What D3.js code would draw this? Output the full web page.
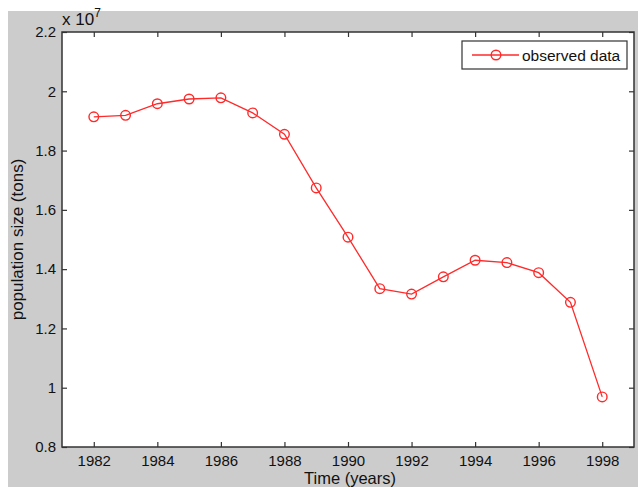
<!DOCTYPE html>
<html>
<head>
<meta charset="utf-8">
<script src="https://cdn.jsdelivr.net/npm/d3@7"></script>
<style>
  html, body { margin: 0; padding: 0; background: #fff; }
  svg { display: block; font-family: "Liberation Sans", Arial, sans-serif; }
</style>
</head>
<body>
<div id="chart"></div>
<script>
// data (population in units of 1e7 tons)
const years = [1982, 1983, 1984, 1985, 1986, 1987, 1988, 1989, 1990,
               1991, 1992, 1993, 1994, 1995, 1996, 1997, 1998];
const population = [1.914, 1.919, 1.958, 1.974, 1.978, 1.927, 1.855, 1.674, 1.508,
                    1.334, 1.316, 1.374, 1.430, 1.422, 1.388, 1.288, 0.969];
const xTicks = [1982, 1984, 1986, 1988, 1990, 1992, 1994, 1996, 1998];
const yTicks = [0.8, 1, 1.2, 1.4, 1.6, 1.8, 2, 2.2];
const seriesName = "observed data";

const W = 638, H = 487;
const margin = { top: 32, right: 4, bottom: 40, left: 62 };
const innerW = W - margin.left - margin.right;
const innerH = H - margin.top - margin.bottom;

const svg = d3.select("#chart").append("svg")
  .attr("width", W)
  .attr("height", H);

// grey figure background
svg.append("rect")
  .attr("x", 8).attr("y", 11)
  .attr("width", W - 8).attr("height", H - 11)
  .attr("fill", "#cccccc");

const g = svg.append("g").attr("transform", `translate(${margin.left},${margin.top})`);

const x = d3.scaleLinear().domain([1981, 1999]).range([0, innerW]);
const y = d3.scaleLinear().domain([0.8, 2.2]).range([innerH, 0]);

g.append("rect")
  .attr("width", innerW).attr("height", innerH)
  .attr("fill", "#fff");

const axisColor = "#333";
const fmtY = (d) => d3.format("~g")(d);

// bottom / left axes with labels, ticks drawn inward
const xAxis = g.append("g").attr("transform", `translate(0,${innerH})`)
  .call(d3.axisBottom(x).tickValues(xTicks).tickFormat(d3.format("d")).tickSizeInner(-5).tickSizeOuter(0).tickPadding(8));
const yAxis = g.append("g")
  .call(d3.axisLeft(y).tickValues(yTicks).tickFormat(fmtY).tickSizeInner(-5).tickSizeOuter(0).tickPadding(6));
// top / right mirrored ticks
const xTop = g.append("g")
  .call(d3.axisTop(x).tickValues(xTicks).tickFormat("").tickSizeInner(-5).tickSizeOuter(0));
const yRight = g.append("g").attr("transform", `translate(${innerW},0)`)
  .call(d3.axisRight(y).tickValues(yTicks).tickFormat("").tickSizeInner(-5).tickSizeOuter(0));

[xAxis, yAxis, xTop, yRight].forEach((a) => {
  a.select(".domain").remove();
  a.selectAll("line").attr("stroke", axisColor).attr("stroke-width", 1.2);
  a.selectAll("text").attr("fill", "#111").style("font-size", "15px");
});

// box
g.append("rect")
  .attr("width", innerW).attr("height", innerH)
  .attr("fill", "none")
  .attr("stroke", axisColor)
  .attr("stroke-width", 1.5);

// exponent label
const expo = g.append("text")
  .attr("x", 0).attr("y", -7)
  .attr("fill", "#111")
  .style("font-size", "17px");
expo.append("tspan").text("x 10");
expo.append("tspan").attr("dy", -8).style("font-size", "12px").text("7");

// axis titles
svg.append("text")
  .attr("x", margin.left + innerW / 2 + 2)
  .attr("y", H - 3)
  .attr("text-anchor", "middle")
  .attr("fill", "#111")
  .style("font-size", "16.5px")
  .text("Time (years)");

svg.append("text")
  .attr("transform", `translate(23,${margin.top + innerH / 2}) rotate(-90)`)
  .attr("text-anchor", "middle")
  .attr("fill", "#111")
  .style("font-size", "17px")
  .text("population size (tons)");

// series
const red = "#ff2a2a";
const line = d3.line().x((d, i) => x(years[i])).y((d) => y(d));

g.append("path")
  .datum(population)
  .attr("fill", "none")
  .attr("stroke", red)
  .attr("stroke-width", 1.3)
  .attr("d", line);

g.selectAll(".pt")
  .data(population)
  .enter().append("circle")
  .attr("class", "pt")
  .attr("cx", (d, i) => x(years[i]))
  .attr("cy", (d) => y(d))
  .attr("r", 4.8)
  .attr("fill", "none")
  .attr("stroke", red)
  .attr("stroke-width", 1.4);

// legend
const lg = svg.append("g").attr("transform", "translate(462,41)");
lg.append("rect")
  .attr("width", 165).attr("height", 28)
  .attr("fill", "#fff")
  .attr("stroke", axisColor)
  .attr("stroke-width", 1.2);
lg.append("line")
  .attr("x1", 10).attr("x2", 57).attr("y1", 14).attr("y2", 14)
  .attr("stroke", red).attr("stroke-width", 1.3);
lg.append("circle")
  .attr("cx", 34).attr("cy", 14).attr("r", 4.8)
  .attr("fill", "none").attr("stroke", red).attr("stroke-width", 1.4);
lg.append("text")
  .attr("x", 60).attr("y", 19.5)
  .attr("fill", "#111")
  .style("font-size", "15.5px")
  .text(seriesName);
</script>
</body>
</html>
